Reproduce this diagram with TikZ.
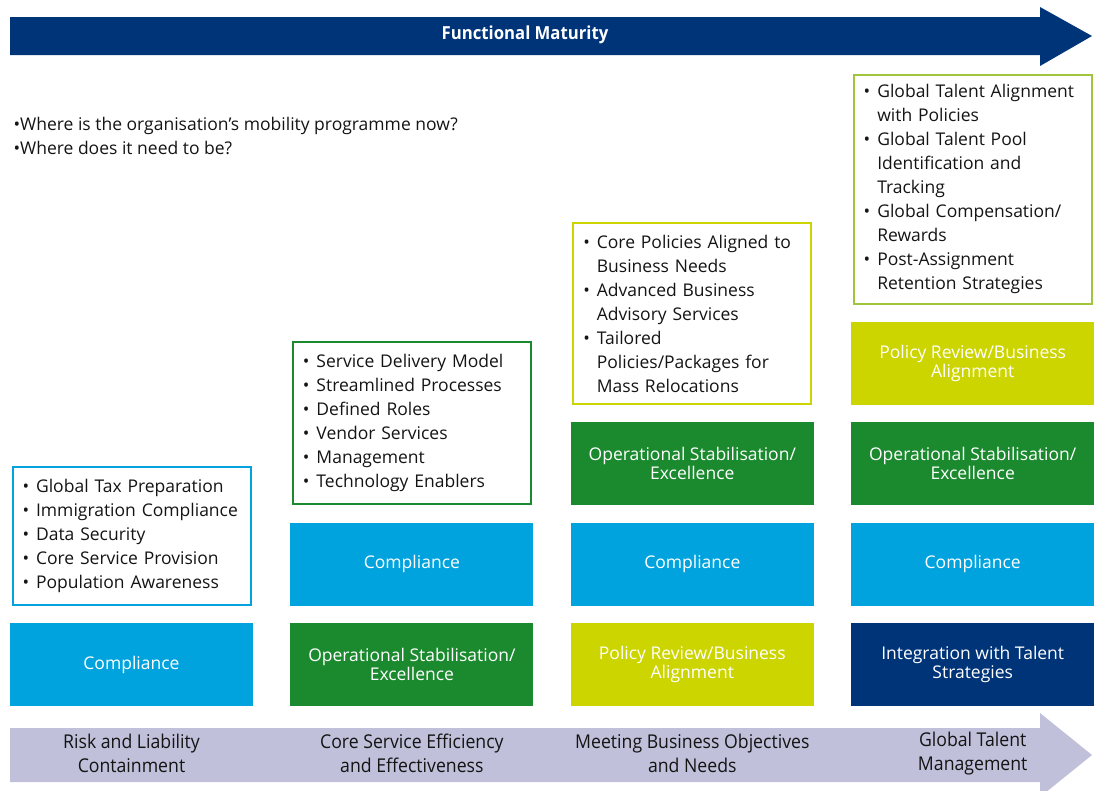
\documentclass[tikz,border=0pt]{standalone}
\usepackage{fontspec}
\setmainfont{Open Sans}
\newfontfamily\condfont[FakeStretch=0.93]{Open Sans}
\usetikzlibrary{positioning}
\definecolor{navy}{RGB}{0,52,121}
\definecolor{sky}{RGB}{0,163,221}
\definecolor{leaf}{RGB}{27,138,46}
\definecolor{lime}{RGB}{205,213,0}
\definecolor{olive}{RGB}{160,196,60}
\definecolor{lilac}{RGB}{192,192,218}
\definecolor{ink}{RGB}{20,20,20}
\newcommand\pnt{\textbullet\hspace{7pt}}
\newcommand\pntgap{\hphantom{\pnt}}
\tikzset{
	node distance=17pt and 37pt, % gaps between the stacked boxes and between the columns
	stage/.style={minimum width=243pt, minimum height=83pt, inner sep=0pt, text=white, align=center, font=\fontsize{17.5}{19}\selectfont}, % coloured maturity blocks
	checklist/.style={draw, line width=2pt, minimum width=238pt, text width=218pt, inner xsep=10pt, inner ysep=0pt, align=left, text=ink, font=\fontsize{17.5}{24}\selectfont}, % framed bullet lists
	steplabel/.style={align=center, text=ink, font=\condfont\fontsize{19}{24}\selectfont}, % captions on the bottom arrow
}
\begin{document}
\begin{tikzpicture}[x=1pt, y=-1pt]
	\useasboundingbox (0,0) rectangle (1100,790);
	% arrows
	\fill[navy] (10,17) -- (1040,17) -- (1040,7) -- (1092,36) -- (1040,66) -- (1040,55) -- (10,55) -- cycle;
	\node[text=white, font=\condfont\bfseries\fontsize{18}{20}\selectfont] (maturity) at (525,35) {Functional Maturity};
	\fill[lilac] (10,728) -- (1040,728) -- (1040,713) -- (1092,755) -- (1040,797) -- (1040,782) -- (10,782) -- cycle;
	\node[anchor=west, align=left, text=ink, font=\fontsize{17.5}{24}\selectfont] (questions) at (10,136) {\textbullet Where is the organisation’s mobility programme now?\\\textbullet Where does it need to be?};
	% bottom row
	\node[stage, fill=sky] (c1r1) at (131.5,664.5) {Compliance};
	\node[stage, fill=leaf, right=of c1r1] (c2r1) {Operational Stabilisation/\\Excellence};
	\node[stage, fill=lime, right=of c2r1] (c3r1) {Policy Review/Business\\Alignment};
	\node[stage, fill=navy, right=of c3r1] (c4r1) {Integration with Talent\\Strategies};
	% stacked blocks
	\node[stage, fill=sky, above=of c2r1] (c2r2) {Compliance};
	\node[stage, fill=sky, above=of c3r1] (c3r2) {Compliance};
	\node[stage, fill=leaf, above=of c3r2] (c3r3) {Operational Stabilisation/\\Excellence};
	\node[stage, fill=sky, above=of c4r1] (c4r2) {Compliance};
	\node[stage, fill=leaf, above=of c4r2] (c4r3) {Operational Stabilisation/\\Excellence};
	\node[stage, fill=lime, above=of c4r3] (c4r4) {Policy Review/Business\\Alignment};
	% lists
	\node[checklist, draw=sky, minimum height=138pt, above=of c1r1] (list1) {\pnt Global Tax Preparation\\\pnt Immigration Compliance\\\pnt Data Security\\\pnt Core Service Provision\\\pnt Population Awareness};
	\node[checklist, draw=leaf, minimum height=162pt, above=of c2r2] (list2) {\pnt Service Delivery Model\\\pnt Streamlined Processes\\\pnt Defined Roles\\\pnt Vendor Services\\\pnt Management\\\pnt Technology Enablers};
	\node[checklist, draw=lime, minimum height=181pt, above=of c3r3] (list3) {\pnt Core Policies Aligned to\\\pntgap Business Needs\\\pnt Advanced Business\\\pntgap Advisory Services\\\pnt Tailored\\\pntgap Policies/Packages for\\\pntgap Mass Relocations};
	\node[checklist, draw=olive, minimum height=229pt, above=of c4r4] (list4) {\pnt Global Talent Alignment\\\pntgap with Policies\\\pnt Global Talent Pool\\\pntgap Identification and\\\pntgap Tracking\\\pnt Global Compensation/\\\pntgap Rewards\\\pnt Post-Assignment\\\pntgap Retention Strategies};
	% captions
	\node[steplabel] (risk) at ([yshift=-47pt]c1r1.south) {Risk and Liability\\Containment};
	\node[steplabel] (core) at ([yshift=-47pt]c2r1.south) {Core Service Efficiency\\and Effectiveness};
	\node[steplabel] (meet) at ([yshift=-47pt]c3r1.south) {Meeting Business Objectives\\and Needs};
	\node[steplabel] (talent) at ([yshift=-47pt]c4r1.south) {Global Talent\\Management};
\end{tikzpicture}
\end{document}
